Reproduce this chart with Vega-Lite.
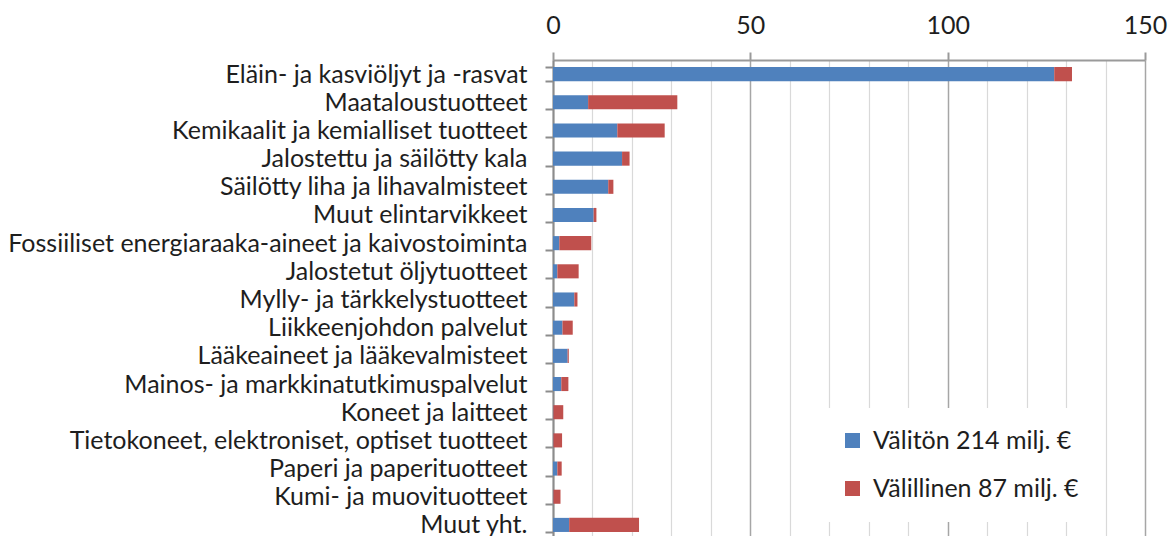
{
  "$schema": "https://vega.github.io/schema/vega-lite/v6.json",
  "autosize": {"type": "none"},
  "width": 592,
  "height": 476,
  "padding": {"left": 553, "top": 60, "right": 25, "bottom": 0},
  "background": "white",
  "config": {
    "view": {"stroke": null},
    "font": "Lato",
    "axis": {"labelFont": "Lato", "labelColor": "#1e1e1e"}
  },
  "data": {"values": [
    {"cat": "Eläin- ja kasviöljyt ja -rasvat\u00a0", "series": "Välitön 214 milj. €", "v": 127.0},
    {"cat": "Eläin- ja kasviöljyt ja -rasvat\u00a0", "series": "Välillinen 87 milj. €", "v": 4.5},
    {"cat": "Maataloustuotteet", "series": "Välitön 214 milj. €", "v": 8.9},
    {"cat": "Maataloustuotteet", "series": "Välillinen 87 milj. €", "v": 22.6},
    {"cat": "Kemikaalit ja kemialliset tuotteet", "series": "Välitön 214 milj. €", "v": 16.3},
    {"cat": "Kemikaalit ja kemialliset tuotteet", "series": "Välillinen 87 milj. €", "v": 12.0},
    {"cat": "Jalostettu ja säilötty kala", "series": "Välitön 214 milj. €", "v": 17.5},
    {"cat": "Jalostettu ja säilötty kala", "series": "Välillinen 87 milj. €", "v": 1.9},
    {"cat": "Säilötty liha ja lihavalmisteet\u00a0", "series": "Välitön 214 milj. €", "v": 14.0},
    {"cat": "Säilötty liha ja lihavalmisteet\u00a0", "series": "Välillinen 87 milj. €", "v": 1.3},
    {"cat": "Muut elintarvikkeet\u00a0", "series": "Välitön 214 milj. €", "v": 10.3},
    {"cat": "Muut elintarvikkeet\u00a0", "series": "Välillinen 87 milj. €", "v": 0.7},
    {"cat": "Fossiiliset energiaraaka-aineet ja kaivostoiminta", "series": "Välitön 214 milj. €", "v": 1.6},
    {"cat": "Fossiiliset energiaraaka-aineet ja kaivostoiminta", "series": "Välillinen 87 milj. €", "v": 8.1},
    {"cat": "Jalostetut öljytuotteet", "series": "Välitön 214 milj. €", "v": 1.1},
    {"cat": "Jalostetut öljytuotteet", "series": "Välillinen 87 milj. €", "v": 5.4},
    {"cat": "Mylly- ja tärkkelystuotteet\u00a0", "series": "Välitön 214 milj. €", "v": 5.4},
    {"cat": "Mylly- ja tärkkelystuotteet\u00a0", "series": "Välillinen 87 milj. €", "v": 0.8},
    {"cat": "Liikkeenjohdon palvelut", "series": "Välitön 214 milj. €", "v": 2.4},
    {"cat": "Liikkeenjohdon palvelut", "series": "Välillinen 87 milj. €", "v": 2.6},
    {"cat": "Lääkeaineet ja lääkevalmisteet", "series": "Välitön 214 milj. €", "v": 3.7},
    {"cat": "Lääkeaineet ja lääkevalmisteet", "series": "Välillinen 87 milj. €", "v": 0.3},
    {"cat": "Mainos- ja markkinatutkimuspalvelut", "series": "Välitön 214 milj. €", "v": 2.1},
    {"cat": "Mainos- ja markkinatutkimuspalvelut", "series": "Välillinen 87 milj. €", "v": 1.8},
    {"cat": "Koneet ja laitteet", "series": "Välitön 214 milj. €", "v": 0.1},
    {"cat": "Koneet ja laitteet", "series": "Välillinen 87 milj. €", "v": 2.5},
    {"cat": "Tietokoneet, elektroniset, optiset tuotteet", "series": "Välitön 214 milj. €", "v": 0.1},
    {"cat": "Tietokoneet, elektroniset, optiset tuotteet", "series": "Välillinen 87 milj. €", "v": 2.2},
    {"cat": "Paperi ja paperituotteet", "series": "Välitön 214 milj. €", "v": 1.1},
    {"cat": "Paperi ja paperituotteet", "series": "Välillinen 87 milj. €", "v": 1.1},
    {"cat": "Kumi- ja muovituotteet", "series": "Välitön 214 milj. €", "v": 0.1},
    {"cat": "Kumi- ja muovituotteet", "series": "Välillinen 87 milj. €", "v": 1.8},
    {"cat": "Muut yht.", "series": "Välitön 214 milj. €", "v": 4.1},
    {"cat": "Muut yht.", "series": "Välillinen 87 milj. €", "v": 17.7}
  ]},
  "mark": {"type": "bar"},
  "encoding": {
    "y": {
      "field": "cat", "type": "nominal", "sort": null,
      "scale": {"range": [0, 479], "paddingInner": 0.5, "paddingOuter": 0.25},
      "axis": {
        "title": null, "orient": "left",
        "labelFontSize": 25, "labelLimit": 560, "labelPadding": 18,
        "tickBand": "extent", "tickSize": 8, "tickColor": "#8c8c8c", "tickWidth": 2,
        "domainColor": "#8c8c8c", "domainWidth": 2, "grid": false
      }
    },
    "x": {
      "field": "v", "type": "quantitative", "stack": "zero",
      "scale": {"domain": [0, 150], "nice": false},
      "axis": {
        "title": null, "orient": "top",
        "values": [0, 10, 20, 30, 40, 50, 60, 70, 80, 90, 100, 110, 120, 130, 140, 150],
        "labelExpr": "datum.value % 50 === 0 ? datum.label : ''",
        "labelFontSize": 25, "labelPadding": 14, "labelFlush": false,
        "tickSize": 8, "tickColor": "#9a9a9a", "tickWidth": 2,
        "tickOpacity": {"condition": {"test": "datum.value % 50 === 0", "value": 1}, "value": 0},
        "domainColor": "#9a9a9a", "domainWidth": 2,
        "grid": true,
        "gridColor": {"condition": {"test": "datum.value % 50 === 0", "value": "#a6a6a6"}, "value": "#d9d9d9"},
        "gridWidth": {"condition": {"test": "datum.value % 50 === 0", "value": 1.5}, "value": 1.2}
      }
    },
    "color": {
      "field": "series", "type": "nominal",
      "scale": {"domain": ["Välitön 214 milj. €", "Välillinen 87 milj. €"], "range": ["#4f81bd", "#c0504d"]},
      "legend": {
        "title": null, "orient": "none", "legendX": 267, "legendY": 348,
        "fillColor": "white", "padding": 20,
        "labelFontSize": 25, "labelColor": "#1e1e1e", "labelFont": "Lato", "labelOffset": 8, "labelLimit": 400,
        "symbolType": "square", "symbolSize": 225, "symbolStrokeWidth": 0, "rowPadding": 22
      }
    },
    "order": {"field": "series", "sort": "descending"}
  }
}
